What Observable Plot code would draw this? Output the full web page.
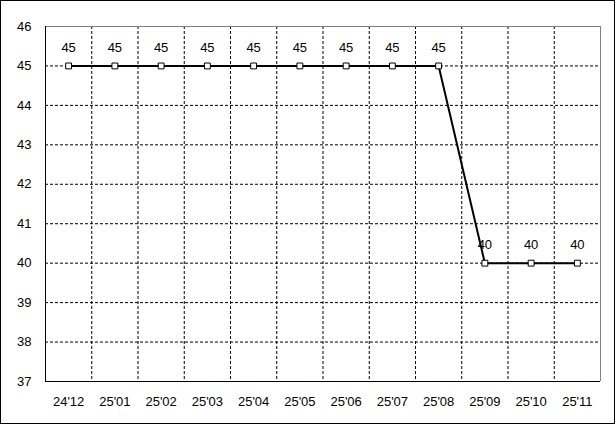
<!DOCTYPE html>
<html><head><meta charset="utf-8">
<script src="https://cdn.jsdelivr.net/npm/d3@7"></script>
<script src="https://cdn.jsdelivr.net/npm/@observablehq/plot@0.6"></script>
<style>body{margin:0;background:#fff}</style>
</head><body><div id="chart"></div>
<script>
const months = ["24'12","25'01","25'02","25'03","25'04","25'05","25'06","25'07","25'08","25'09","25'10","25'11"];
const values = [45,45,45,45,45,45,45,45,45,40,40,40];
const yTicks = [37,38,39,40,41,42,43,44,45,46];

const data = months.map((m, i) => ({i, m, v: values[i]}));
const boundaries = d3.range(months.length - 1).map(i => i + 0.5);
const xMin = -0.5, xMax = months.length - 0.5;
const dash = "3,2";

const svg = Plot.plot({
  width: 615, height: 424,
  marginLeft: 45, marginRight: 15, marginTop: 26, marginBottom: 43,
  x: {domain: [xMin, xMax], ticks: d3.range(months.length), tickFormat: i => months[i], tickSize: 0, tickPadding: 15, label: null},
  y: {domain: [37, 46], ticks: yTicks, tickSize: 0, tickPadding: 14, label: null},
  style: {fontFamily: "Liberation Sans, Arial, sans-serif", fontSize: "13px", background: "white", color: "black"},
  marks: [
    Plot.ruleY(yTicks.slice(1, -1), {stroke: "black", strokeDasharray: dash}),
    Plot.ruleX(boundaries, {stroke: "black", strokeDasharray: dash}),
    Plot.ruleY([46], {stroke: "#808080"}),
    Plot.ruleX([xMax], {stroke: "#808080"}),
    Plot.ruleY([37], {stroke: "black"}),
    Plot.ruleX([xMin], {stroke: "black"}),
    Plot.line(data, {x: "i", y: "v", stroke: "black", strokeWidth: 2}),
    Plot.dot(data, {x: "i", y: "v", symbol: "square", r: 3.3, fill: "white", stroke: "black", strokeWidth: 1}),
    Plot.text(data, {x: "i", y: "v", text: d => String(d.v), dy: -18, fontSize: 13, fill: "black"})
  ]
});
d3.select(svg).append("rect")
  .attr("x", 0.5).attr("y", 0.5).attr("width", 614).attr("height", 423)
  .attr("fill", "none").attr("stroke", "black");
document.getElementById("chart").appendChild(svg);
</script>
</body></html>
